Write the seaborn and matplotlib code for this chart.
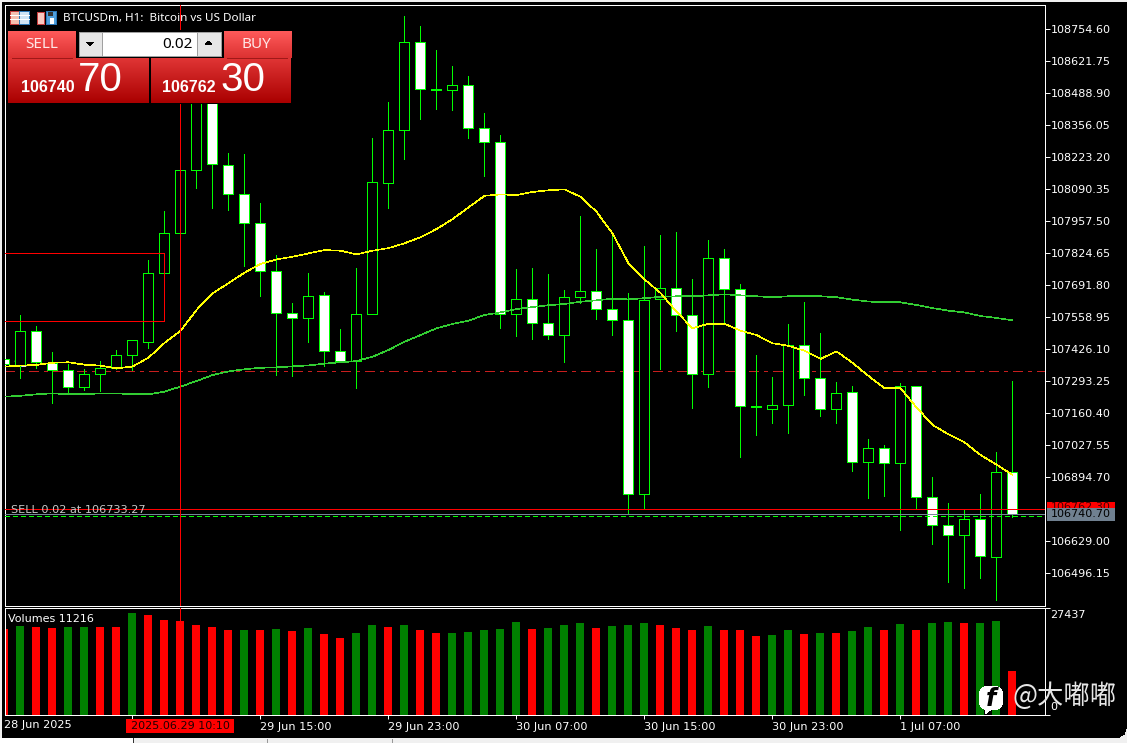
import numpy as np
import matplotlib
matplotlib.use("Agg")
import matplotlib.pyplot as plt
from matplotlib.patches import Rectangle, FancyBboxPatch, Polygon
import seaborn as sns

W, H = 1127, 743

# ---------- data ----------
opens = [107383,107361,107500,107369,107338,107267,107321,107346,107400,107454,107740,107906,108168,108584,108191,108068,107948,107749,107574,107554,107649,107416,107375,107570,108114,108334,108699,108504,108500,108521,108342,108284,107570,107632,107533,107483,107641,107666,107591,107545,106823,107632,107678,107566,107321,107803,107674,107188,107178,107192,107441,107305,107176,107246,106956,107014,106952,107271,106810,106694,106653,106719,106561,106914]
highs = [107383,107566,107522,107414,107364,107343,107375,107422,107462,107796,107999,108168,108584,108584,108239,108236,108031,107816,107616,107740,107661,107509,107761,108301,108450,108809,108767,108667,108601,108559,108406,108315,107757,107761,107736,107670,107977,107840,107894,107657,107852,107899,107911,107715,107879,107841,107696,107401,107309,107530,107621,107492,107289,107272,107051,107028,107284,107271,106893,106785,106761,106823,106997,107293]
lows = [107363,107307,107348,107203,107238,107256,107252,107342,107339,107431,107740,107906,108096,108013,108004,107772,107647,107319,107315,107456,107357,107375,107265,107570,108013,108216,108382,108424,108420,108303,108146,107515,107481,107468,107469,107372,107618,107552,107485,106741,106763,107344,107502,107182,107270,107539,106979,107069,107120,107079,107236,107149,107120,106921,106809,106817,106676,106761,106618,106460,106435,106477,106385,106729]
closes = [107363,107500,107371,107338,107267,107321,107346,107400,107462,107740,107906,108168,108584,108193,108068,107948,107749,107574,107554,107645,107416,107375,107570,108118,108335,108699,108504,108500,108521,108342,108284,107570,107632,107533,107483,107641,107666,107591,107545,106823,107628,107678,107566,107321,107803,107674,107188,107184,107192,107441,107305,107176,107242,106956,107014,106952,107271,106810,106694,106653,106719,106566,106914,106740]
ma_fast = [107353,107357,107360,107369,107371,107361,107357,107346,107353,107390,107451,107501,107588,107657,107699,107743,107779,107798,107809,107823,107837,107834,107819,107834,107845,107865,107890,107924,107965,108014,108062,108068,108065,108078,108085,108089,108058,107996,107906,107782,107715,107659,107581,107512,107531,107531,107502,107484,107450,107439,107419,107385,107416,107369,107314,107263,107263,107184,107111,107072,107039,106986,106946,106904]
ma_slow = [107228,107232,107238,107242,107238,107238,107242,107242,107238,107238,107249,107270,107293,107318,107333,107342,107348,107350,107354,107358,107365,107371,107376,107394,107422,107456,107484,107512,107530,107544,107567,107578,107592,107600,107608,107613,107622,107628,107635,107632,107637,107643,107645,107645,107649,107653,107649,107645,107641,107645,107645,107645,107641,107631,107623,107620,107620,107609,107596,107585,107578,107563,107555,107545]
volumes = [21864,22635,22378,22121,22378,22378,22378,22378,25979,25465,24179,23921,22893,22378,21606,21606,21606,21864,21349,22121,20578,19549,20835,22893,22378,22893,21606,20835,20835,21092,21606,21864,23664,21864,22121,22893,23407,22121,22635,22893,23407,22893,22121,21606,22635,21606,21606,20063,20320,21606,20578,20835,20835,21349,22378,21606,23150,21606,23407,23664,23407,23407,23921,11216]
vol_dir = list("rgrrggrrgrrrrrrgrgrgrrggrgrrgggggrgggrgggrrrgrrrggrgrggrgrggrggr")
price_ticks = [108754.60,108621.75,108488.90,108356.05,108223.20,108090.35,107957.50,107824.65,107691.80,107558.95,107426.10,107293.25,107160.40,107027.55,106894.70,106629.00,106496.15]
time_idx = [8,16,24,32,40,48,56]
time_labels = ["","29 Jun 15:00","29 Jun 23:00","30 Jun 07:00","30 Jun 15:00","30 Jun 23:00","1 Jul 07:00"]
ask, bid, sell_price, stop_level = 106762.30, 106740.70, 106733.27, 107333.0
box_hi, box_lo = 107825.0, 107543.0
cross_idx = 11
vol_max = 27437

# ---------- style ----------
sns.set_theme(style="dark", rc={
    "figure.facecolor": "black", "axes.facecolor": "black", "savefig.facecolor": "black",
    "axes.edgecolor": "white", "axes.linewidth": 0.71, "text.color": "white",
    "xtick.color": "white", "ytick.color": "white",
    "xtick.labelcolor": "white", "ytick.labelcolor": "white",
    "patch.antialiased": False, "lines.antialiased": False, "lines.scale_dashes": False,
})
plt.rcParams["font.family"] = ["DejaVu Sans", "Noto Sans CJK SC"]

fig = plt.figure(figsize=(W / 100, H / 100), dpi=100)

def axes_px(x0, y0, x1, y1, **kw):
    return fig.add_axes([x0 / W, 1 - y1 / H, (x1 - x0) / W, (y1 - y0) / H], **kw)

ax = axes_px(4.5, 4.5, 1044.5, 605.5)
axv = axes_px(4.5, 607.5, 1044.5, 714.5)
idx = np.arange(len(opens))
LW = 0.71
LIME = "#00ff00"

# ---------- candles ----------
o, h, l, c = map(np.array, (opens, highs, lows, closes))
up = c > o
ax.vlines(idx, l, h, color=LIME, lw=LW, antialiased=False, zorder=2)
bot = np.minimum(o, c)
hgt = np.abs(c - o)
ax.bar(idx, hgt, bottom=bot, width=10 / 16, facecolor=["black" if u else "white" for u in up],
       edgecolor=LIME, linewidth=LW, zorder=3)

# ---------- moving averages ----------
sns.lineplot(x=idx, y=ma_slow, ax=ax, color="#32cd32", errorbar=None, sort=False, zorder=4)
sns.lineplot(x=idx, y=ma_fast, ax=ax, color="#ffff00", errorbar=None, sort=False, zorder=5)
for line in ax.lines:
    line.set_linewidth(0.45)
    line.set_antialiased(False)

# ---------- levels ----------
ax.axhline(stop_level, color="#c81e1e", lw=LW, ls=(0, (6.5, 3.6, 2.2, 4.3)), zorder=1)
ax.axhline(ask, color="#ff0000", lw=LW, zorder=4)
ax.axhline(bid, color="#778899", lw=LW, zorder=4)
ax.axhline(sell_price, color=LIME, lw=LW, ls=(0, (3.0, 2.2)), zorder=4)
ax.hlines([box_hi, box_lo], -1, 10, color="#ff0000", lw=LW, antialiased=False, zorder=4)
ax.vlines([10], box_lo, box_hi, color="#ff0000", lw=LW, antialiased=False, zorder=4)
ax.axvline(cross_idx, color="#ff0000", lw=LW, zorder=6)
ax.text(0.55, 107365, "SL", fontsize=8, color="white", va="center", ha="left", zorder=1)
ax.text(0.42, 106757, f"SELL 0.02 at {sell_price:.2f}", fontsize=8.1, color="#c8c8c8", va="center", ha="left", zorder=5)

ax.set_xlim((5 - 4.5) / 16 - 0.03, (1044.5 - 4.5) / 16)
ax.set_ylim(106361.2, 108856.3)
ax.yaxis.tick_right()
ax.set_yticks(price_ticks, [f"{p:.2f}" for p in price_ticks], fontsize=8)
ax.tick_params(axis="y", length=3.5, width=LW, pad=1.2, right=True, left=False)
ax.tick_params(axis="x", bottom=False, labelbottom=False)
ax.set_xlabel(""); ax.set_ylabel("")
ax.grid(False)

# ---------- volumes ----------
colors = {"g": "#008000", "r": "#ff0000"}
sns.barplot(x=idx, y=volumes, hue=vol_dir, palette=colors, ax=axv, native_scale=True,
            width=0.5, dodge=False, legend=False, saturation=1, linewidth=0, errorbar=None)
axv.axvline(cross_idx, color="#ff0000", lw=LW, zorder=6)
axv.set_xlim((4.5 - 4) / 16, (1044.5 - 4) / 16)
axv.set_ylim(0, vol_max)
axv.yaxis.tick_right()
axv.set_yticks([vol_max, 0], [])
axv.tick_params(axis="y", length=3.5, width=LW, right=True, left=False)
axv.set_xticks(time_idx, time_labels, fontsize=8.1, ha="left")
axv.tick_params(axis="x", length=3, width=LW, pad=2.2, bottom=True)
axv.set_xlabel(""); axv.set_ylabel("")
axv.grid(False)

# ---------- overlay in screen pixels ----------
ov = fig.add_axes([0, 0, 1, 1], zorder=20)
ov.patch.set_alpha(0)
ov.axis("off")

def rect(x0, y0, x1, y1, fc, ec="none", z=1, lw=LW):
    ov.add_patch(Rectangle((x0, y0), x1 - x0, y1 - y0, fc=fc, ec=ec, lw=lw, zorder=z))

def grad(x0, y0, x1, y1, top, bottom, z=1):
    t = np.linspace(0, 1, 64)[:, None, None]
    a = np.array(matplotlib.colors.to_rgb(top))[None, None, :]
    b = np.array(matplotlib.colors.to_rgb(bottom))[None, None, :]
    ov.imshow(a * (1 - t) + b * t, extent=(x0, x1, y1, y0), aspect="auto", zorder=z, interpolation="bilinear")

# outer window edge
rect(0, 0, W, 1.5, "#f0f0f0", z=0.5)
rect(0, 0, 1.5, 738, "#f0f0f0", z=0.5)
rect(0, 738, 133, H, "white", z=0.5)
rect(133, 738, W, H, "#f0f0f0", z=0.5)
rect(132.5, 738, 133.5, H, "#333333", z=0.6)
rect(267, 739, 268, H, "#999999", z=0.6)
rect(392, 739, 393, H, "#999999", z=0.6)
ov.add_patch(Polygon([(1120, 738), (1125, 735), (1127, 729), (1127, 738)], fc="#f0f0f0", ec="none", zorder=0.6))

# title and icons
rect(10, 11, 19, 24, "#f4c0b0", "#c83c3c", z=2)
rect(19, 11, 29, 24, "#d0e4f4", "#2c78b8", z=2)
for yy in (15, 19):
    ov.plot([10, 29], [yy, yy], color="white", lw=LW, zorder=3)
rect(37, 12, 44, 24, "#f8c8c0", "#c83c3c", z=2)
rect(46, 11, 56, 24, "#50a0dc", "#2c78b8", z=2)
rect(48, 12, 53, 16, "#333333", z=3)
rect(50, 18, 54, 24, "white", z=3)
ov.text(63, 18.5, "BTCUSDm, H1:  Bitcoin vs US Dollar", fontsize=8.4, color="white", va="center", ha="left",
        family=["Noto Sans", "DejaVu Sans"], zorder=4)

# trade panel
rect(7, 30, 292, 104, "black", z=1)
grad(8, 31.5, 75.5, 58.5, "#ff5a5a", "#dc3232", z=2)
grad(8, 58.5, 149, 103, "#e03535", "#aa0000", z=2)
grad(223.5, 31.5, 291, 58.5, "#ff5a5a", "#dc3232", z=2)
grad(151, 58.5, 291, 103, "#e03535", "#aa0000", z=2)
rect(75.5, 31, 78, 58, "black", z=2.5)
rect(221, 31, 223.5, 58, "black", z=2.5)
ov.plot([12, 72], [57.5, 57.5], color="#a01818", lw=LW, zorder=3)
ov.plot([227, 287], [57.5, 57.5], color="#a01818", lw=LW, zorder=3)
rect(78.5, 31.5, 102, 55.5, "#e6e6e6", "#a0a0a0", z=3)
rect(102, 31.5, 196.5, 55.5, "white", "#a0a0a0", z=3)
rect(196.5, 31.5, 220.5, 55.5, "#e6e6e6", "#a0a0a0", z=3)
ov.add_patch(Polygon([(86, 42), (94, 42), (90, 46)], fc="black", ec="none", zorder=4))
ov.add_patch(Polygon([(205, 45), (212, 45), (208.5, 41)], fc="black", ec="none", zorder=4))
ov.text(193, 44, "0.02", fontsize=11, color="black", ha="right", va="center", family="Noto Sans", zorder=5)
ov.text(41.5, 44.5, "SELL", fontsize=11, color="#ffe8e8", ha="center", va="center", family="Noto Sans", zorder=5)
ov.text(256, 44.5, "BUY", fontsize=11, color="#ffe8e8", ha="center", va="center", family="Noto Sans", zorder=5)
ov.text(47.5, 88, "106740", fontsize=11.5, fontweight="bold", color="white", ha="center", va="center", family="Liberation Sans", zorder=5)
ov.text(189, 88, "106762", fontsize=11.5, fontweight="bold", color="white", ha="center", va="center", family="Liberation Sans", zorder=5)
ov.text(100.5, 80, "70", fontsize=29, color="white", ha="center", va="center", family="Liberation Sans", zorder=5)
ov.text(243, 80, "30", fontsize=29, color="white", ha="center", va="center", family="Liberation Sans", zorder=5)

# right-hand price tags
rect(1047, 502, 1115, 510, "#ff0000", z=2)
ov.text(1051, 507.5, f"{ask:.2f}", fontsize=8, color="#400000", va="center", ha="left", zorder=3)
rect(1047, 507.5, 1115, 520.7, "#708090", z=4)
ov.text(1051, 514.3, f"{bid:.2f}", fontsize=8, color="black", va="center", ha="left", zorder=5)

# volume labels
ov.text(8, 618.5, "Volumes 11216", fontsize=8, color="white", va="center", ha="left", zorder=3)
ov.text(1050, 614.8, str(vol_max), fontsize=8, color="white", va="center", ha="left", zorder=3)
ov.text(1050, 707, "0", fontsize=8, color="white", va="center", ha="left", zorder=3)

# time labels on the axis
ov.text(3.5, 725, "28 Jun 2025", fontsize=8.1, color="white", va="center", ha="left", zorder=3)
rect(126, 719, 234, 733, "#ff0000", z=3)
ov.text(180, 726, "2025.06.29 10:10", fontsize=8, color="#200000", va="center", ha="center", zorder=4)

# watermark
ov.add_patch(FancyBboxPatch((981, 688), 20, 20, boxstyle="round,pad=0,rounding_size=6", fc="white", ec="white", lw=2, zorder=6))
ov.add_patch(Polygon([(985, 706), (993, 708), (985, 714)], fc="white", ec="none", zorder=6))
ov.text(991, 698.5, "f", fontsize=17, fontweight="bold", style="italic", color="black", ha="center", va="center", zorder=7)
ov.text(1012, 696, "@大嘟嘟", fontsize=19, color="#e6e6e6", va="center", ha="left",
        family=["Noto Sans CJK SC", "DejaVu Sans"], zorder=7)

ov.set_xlim(0, W)
ov.set_ylim(H, 0)

fig.savefig("out.png", dpi=100)
